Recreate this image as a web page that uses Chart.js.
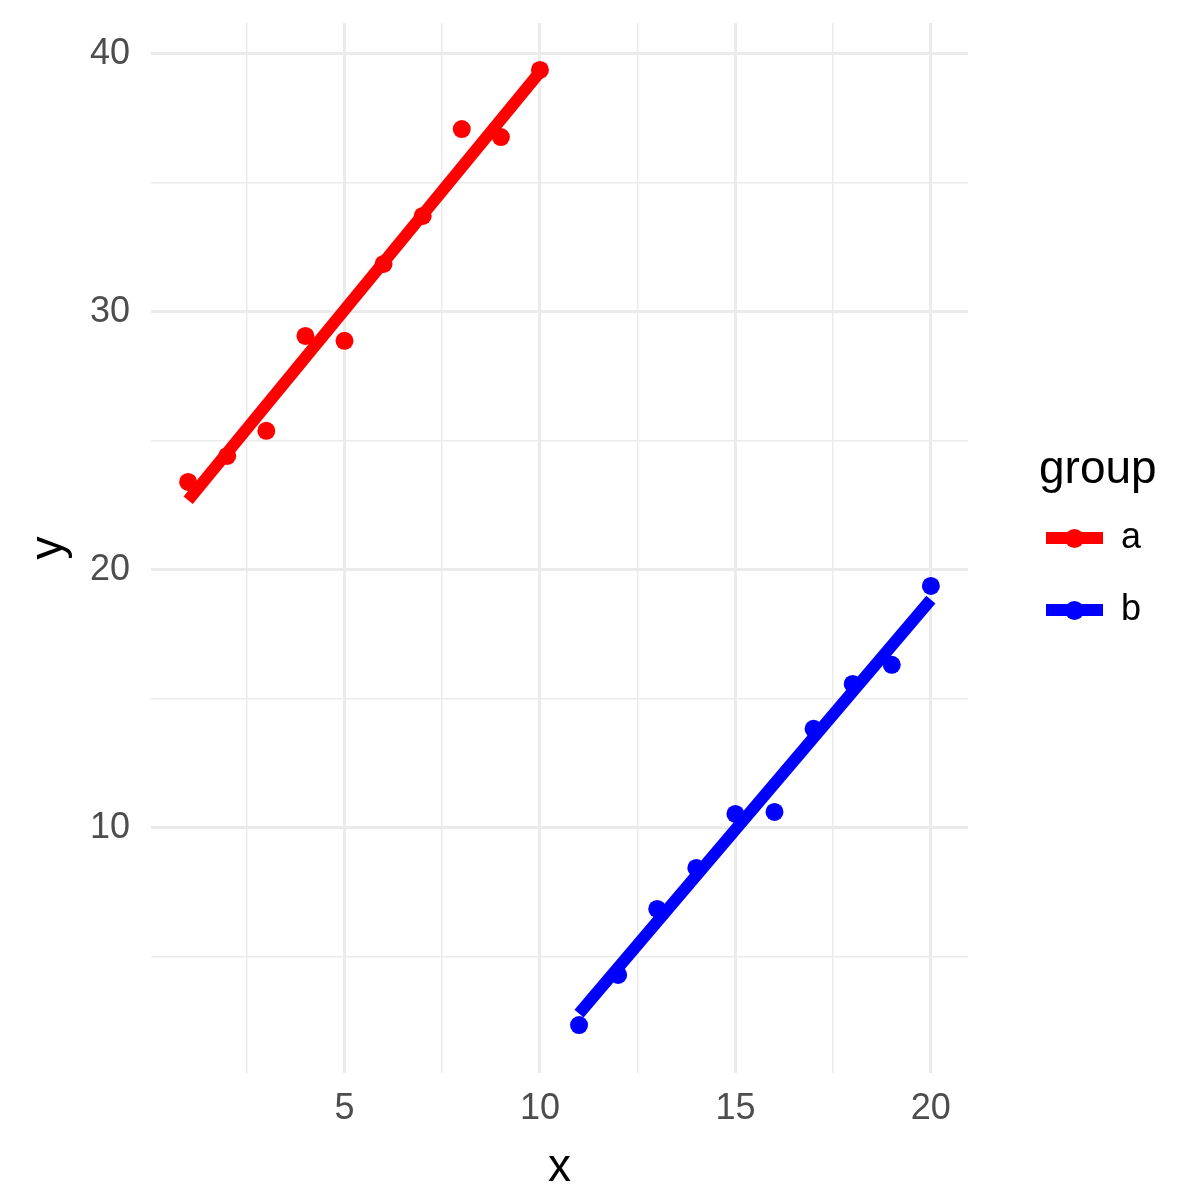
<!DOCTYPE html>
<html>
<head>
<meta charset="utf-8">
<script src="https://cdn.jsdelivr.net/npm/chart.js@4"></script>
<style>
  html, body { margin: 0; padding: 0; background: #ffffff; }
  #wrap { position: relative; width: 1200px; height: 1200px; font-family: "Liberation Sans", Arial, Helvetica, sans-serif; }
  canvas { position: absolute; left: 0; top: 0; }
  .lg { position: absolute; color: #000; white-space: nowrap; }
  .key-line { position: absolute; height: 12px; width: 57px; }
  .key-dot { position: absolute; width: 19px; height: 19px; border-radius: 50%; }
</style>
</head>
<body>
<div id="wrap">
  <canvas id="c" width="1200" height="1200"></canvas>
  <div class="lg" style="left:1039px; top:444px; font-size:46px; line-height:46px;">group</div>
  <div class="key-line" style="left:1046px; top:532px; background:#FF0000;"></div>
  <div class="key-dot" style="left:1065px; top:528.5px; background:#FF0000;"></div>
  <div class="lg" style="left:1121px; top:518px; font-size:36px; line-height:36px;">a</div>
  <div class="key-line" style="left:1046px; top:604px; background:#0000FF;"></div>
  <div class="key-dot" style="left:1065px; top:600.5px; background:#0000FF;"></div>
  <div class="lg" style="left:1121px; top:590px; font-size:36px; line-height:36px;">b</div>
</div>
<script>
// ---- data ----
const groupNames = ['a', 'b'];
const groupColors = ['#FF0000', '#0000FF'];

const xA = [1, 2, 3, 4, 5, 6, 7, 8, 9, 10];
const yA = [23.41, 24.42, 25.39, 29.07, 28.88, 31.86, 33.72, 37.09, 36.78, 39.38];
const xB = [11, 12, 13, 14, 15, 16, 17, 18, 19, 20];
const yB = [2.36, 4.30, 6.86, 8.45, 10.54, 10.62, 13.84, 15.58, 16.32, 19.38];

// fitted line endpoints
const fitXA = [1, 10];
const fitYA = [22.7, 39.3];
const fitXB = [11, 20];
const fitYB = [2.8, 18.85];

const xTickValues = [2.5, 5, 7.5, 10, 12.5, 15, 17.5, 20];
const xTickLabels = ['', '5', '', '10', '', '15', '', '20'];
const yTickValues = [5, 10, 15, 20, 25, 30, 35, 40];
const yTickLabels = ['', '10', '', '20', '', '30', '', '40'];

const xRange = [0.05, 20.95];
const yRange = [0.5, 41.2];

// ---- build chart ----
const pts = (xs, ys) => xs.map((x, i) => ({ x: x, y: ys[i] }));
const FONT = '"Liberation Sans", Arial, Helvetica, sans-serif';
const GRID = '#ebebeb';

const datasets = [
  { label: 'fit a', data: pts(fitXA, fitYA), showLine: true, borderColor: groupColors[0], borderWidth: 12, pointRadius: 0, borderCapStyle: 'butt', fill: false },
  { label: 'fit b', data: pts(fitXB, fitYB), showLine: true, borderColor: groupColors[1], borderWidth: 12, pointRadius: 0, borderCapStyle: 'butt', fill: false },
  { label: groupNames[0], data: pts(xA, yA), backgroundColor: groupColors[0], borderWidth: 0, pointRadius: 9, showLine: false },
  { label: groupNames[1], data: pts(xB, yB), backgroundColor: groupColors[1], borderWidth: 0, pointRadius: 9, showLine: false }
];

const noPad = s => { s.paddingTop = 0; s.paddingBottom = 0; s.paddingLeft = 0; s.paddingRight = 0; };

new Chart(document.getElementById('c'), {
  type: 'scatter',
  data: { datasets: datasets },
  options: {
    responsive: false,
    animation: false,
    devicePixelRatio: 1,
    layout: { padding: { left: 0, top: 23, right: 232, bottom: 0 } },
    plugins: { legend: { display: false }, tooltip: { enabled: false } },
    scales: {
      x: {
        type: 'linear',
        min: xRange[0], max: xRange[1],
        afterBuildTicks: s => { s.ticks = xTickValues.map(v => ({ value: v })); },
        afterFit: s => { s.height = 127; noPad(s); },
        border: { display: false },
        grid: {
          color: GRID,
          drawTicks: false,
          lineWidth: c => (c.tick && xTickLabels[xTickValues.indexOf(c.tick.value)] !== '') ? 3 : 1.5
        },
        ticks: {
          autoSkip: false, maxRotation: 0, padding: 14,
          color: '#4d4d4d', font: { family: FONT, size: 36 },
          callback: (v, i) => xTickLabels[xTickValues.indexOf(v)]
        },
        title: { display: true, text: 'x', color: '#000', font: { family: FONT, size: 46 }, padding: { top: 0, bottom: 4 } }
      },
      y: {
        type: 'linear',
        min: yRange[0], max: yRange[1],
        afterBuildTicks: s => { s.ticks = yTickValues.map(v => ({ value: v })); },
        afterFit: s => { s.width = 151; noPad(s); },
        border: { display: false },
        grid: {
          color: GRID,
          drawTicks: false,
          lineWidth: c => (c.tick && yTickLabels[yTickValues.indexOf(c.tick.value)] !== '') ? 3 : 1.5
        },
        ticks: {
          autoSkip: false, padding: 21,
          color: '#4d4d4d', font: { family: FONT, size: 36 },
          callback: (v, i) => yTickLabels[yTickValues.indexOf(v)]
        },
        title: { display: true, text: 'y', color: '#000', font: { family: FONT, size: 46 }, padding: { top: 22, bottom: 0 } }
      }
    }
  }
});
</script>
</body>
</html>
